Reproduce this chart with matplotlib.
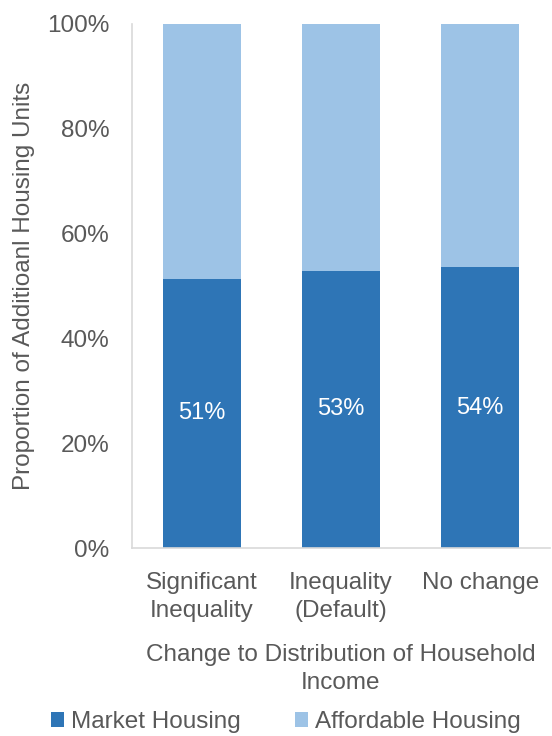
import matplotlib
matplotlib.use("Agg")
import matplotlib.pyplot as plt
import numpy as np

categories = ["Significant\nInequality", "Inequality\n(Default)", "No change"]
market = [51.3, 52.9, 53.5]
affordable = [100 - m for m in market]
yticks = [0, 20, 40, 60, 80, 100]

plt.rcParams['font.family'] = ['Liberation Sans', 'DejaVu Sans']
txt = '#595959'
c_market = '#2e75b6'
c_aff = '#9dc3e6'
fs = 17.5

fig = plt.figure(figsize=(5.52, 7.36), dpi=100)
ax = fig.add_axes([0.239, 0.2554, 0.757, 0.7126])
x = np.arange(len(categories))
w = 0.56
b1 = ax.bar(x, market, w, color=c_market, label='Market Housing')
b2 = ax.bar(x, affordable, w, bottom=market, color=c_aff, label='Affordable Housing')
for xi, m in zip(x, market):
    ax.text(xi, m / 2, f"{m:.0f}%", ha='center', va='center', color='white', fontsize=17)

ax.set_xlim(-0.5, 2.5)
ax.set_ylim(0, 100)
ax.set_yticks(yticks)
ax.set_yticklabels([f"{t}%" for t in yticks], color=txt, fontsize=fs)
ax.set_xticks(x)
ax.set_xticklabels(categories, color=txt, fontsize=fs, linespacing=1.35)
ax.tick_params(length=0)
ax.tick_params(axis='y', pad=16)
ax.tick_params(axis='x', pad=17)
for s in ['top', 'right']:
    ax.spines[s].set_visible(False)
for s in ['left', 'bottom']:
    ax.spines[s].set_color('#d9d9d9')
    ax.spines[s].set_linewidth(1.2)
ax.set_ylabel("Proportion of Additioanl Housing Units", color=txt, fontsize=fs, labelpad=9)
ax.set_xlabel("Change to Distribution of Household\nIncome", color=txt, fontsize=fs, labelpad=16, linespacing=1.35)
leg = fig.legend(handles=[b1, b2], loc='center', bbox_to_anchor=(0.518, 0.019), ncol=2, frameon=False,
                 fontsize=fs, handlelength=0.55, handleheight=0.55, handletextpad=0.3, columnspacing=2.2)
for t in leg.get_texts():
    t.set_color(txt)
fig.savefig("out.png", dpi=100)
